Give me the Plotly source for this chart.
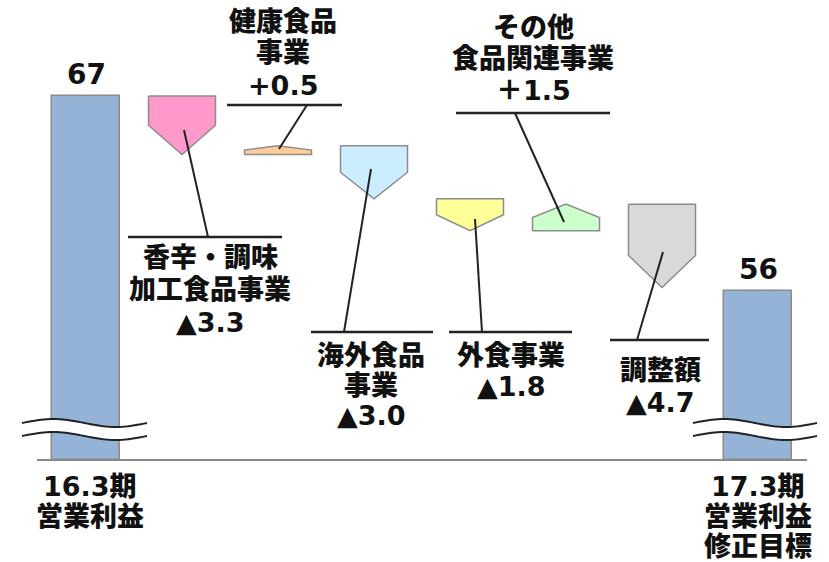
import math
import plotly.graph_objects as go

# ---------------- data ----------------
start_label = ["16.3期", "営業利益"]
end_label = ["17.3期", "営業利益", "修正目標"]
start_total = 67
end_total = 56
step_names = [
    ["香辛・調味", "加工食品事業"],
    ["健康食品", "事業"],
    ["海外食品", "事業"],
    ["外食事業"],
    ["その他", "食品関連事業"],
    ["調整額"],
]
step_deltas = [-3.3, 0.5, -3.0, -1.8, 1.5, -4.7]
step_colors = ["#FF99CC", "#FFCC99", "#CCECFF", "#FFFF99", "#CCFFCC", "#D9D9D9"]

# ---------------- layout helpers ----------------
W, H = 829, 562
PX_PER_UNIT = 195 / 11.0
X0, DX = 86.0, 96.0
XMIN = -X0 / DX
XMAX = (W - X0) / DX
YMAX = 67 + 96 / PX_PER_UNIT
YMIN = YMAX - H / PX_PER_UNIT


def to_x(px):
    return (px - X0) / DX


def to_y(py):
    return YMAX - py / PX_PER_UNIT


def paper(px, py):
    return px / W, 1 - py / H


FONT = "DejaVu Sans, Noto Sans CJK JP, sans-serif"
TXT = "#111111"
EDGE = "#8C8C8C"
LINE = "#222222"

base_value = to_y(460)

fig = go.Figure()

# totals bars
fig.add_trace(go.Bar(
    x=[0, 7], y=[start_total - base_value, end_total - base_value],
    base=[base_value, base_value], width=68 / DX,
    marker=dict(color="#95B3D7", line=dict(color=EDGE, width=1.5)),
    hoverinfo="skip", showlegend=False,
))

# pentagon steps
cum = start_total
half = 0.349
for i, (d, col) in enumerate(zip(step_deltas, step_colors), start=1):
    s, e = cum, cum + d
    tip = min(abs(d) / 2, 1.8)
    if d < 0:
        side = e + tip
    else:
        side = e - tip
    xs = [i - half, i + half, i + half, i, i - half, i - half]
    ys = [s, s, side, e, side, s]
    fig.add_trace(go.Scatter(
        x=xs, y=ys, mode="lines", fill="toself", fillcolor=col,
        line=dict(color=EDGE, width=1.5), hoverinfo="skip", showlegend=False,
    ))
    cum = e

shapes = []
# baseline
shapes.append(dict(type="line", xref="x", yref="y", x0=to_x(37), x1=to_x(807),
                   y0=base_value, y1=base_value, line=dict(color="#888888", width=2)))

# broken-axis waves
def wave(xa, xb, yc, amp=4, n=40):
    pts = []
    for k in range(n + 1):
        t = k / n
        pts.append((to_x(xa + t * (xb - xa)), to_y(yc - amp * math.sin(2 * math.pi * t))))
    return pts

for xa, xb in [(22, 147), (693, 817)]:
    top = wave(xa, xb, 423)
    bot = wave(xa, xb, 436)
    poly = top + bot[::-1]
    path = "M " + " L ".join(f"{x:.4f},{y:.4f}" for x, y in poly) + " Z"
    shapes.append(dict(type="path", xref="x", yref="y", path=path,
                       fillcolor="white", line=dict(width=0)))
    for ln in (top, bot):
        p = "M " + " L ".join(f"{x:.4f},{y:.4f}" for x, y in ln)
        shapes.append(dict(type="path", xref="x", yref="y", path=p,
                           line=dict(color=LINE, width=2)))

# label underlines and leaders (pixel layout)
underlines = [(128, 282, 237), (227, 342, 105), (311, 433, 332),
              (449, 572, 332), (456, 610, 113), (610, 709, 340)]
leaders = [((184, 130), (208, 237)), ((279, 149), (307, 105)), ((371, 169), (344, 332)),
           ((475, 219), (482, 332)), ((564, 222), (515, 113)), ((663, 252), (637, 340))]
for xa, xb, yy in underlines:
    shapes.append(dict(type="line", xref="x", yref="y", x0=to_x(xa), x1=to_x(xb),
                       y0=to_y(yy), y1=to_y(yy), line=dict(color=LINE, width=2.5)))
for (ax, ay), (bx, by) in leaders:
    shapes.append(dict(type="line", xref="x", yref="y", x0=to_x(ax), y0=to_y(ay),
                       x1=to_x(bx), y1=to_y(by), line=dict(color=LINE, width=2)))

annotations = []


def add_lines(lines, cx, cy0, dy, size=27):
    for k, t in enumerate(lines):
        x, y = paper(cx, cy0 + k * dy)
        annotations.append(dict(text=t, x=x, y=y, xref="paper", yref="paper",
                                xanchor="center", yanchor="middle", showarrow=False,
                                font=dict(family=FONT, size=size, color=TXT, weight=900)))


def fmt(d):
    return ("▲" + f"{abs(d):.1f}") if d < 0 else ("＋" + f"{d:.1f}" if abs(d) >= 1 else "+" + f"{d:.1f}")

# totals value labels
for xi, v in [(0, start_total), (7, end_total)]:
    annotations.append(dict(text=f"{v:.0f}", x=xi, y=v, xref="x", yref="y",
                            xanchor="center", yanchor="bottom", yshift=3, showarrow=False,
                            font=dict(family=FONT, size=28, color=TXT, weight=900)))

add_lines(start_label, 90, 486, 30)
add_lines(end_label, 758, 486, 30)

label_pos = [(210, 257, 32.5), (283, 21, 32), (371, 355, 30.5),
             (511, 355, 32), (533, 27, 31.5), (660, 370, 32)]
for names, d, (cx, cy, dy) in zip(step_names, step_deltas, label_pos):
    add_lines(names + [fmt(d)], cx, cy, dy)

fig.update_layout(
    width=W, height=H, margin=dict(l=0, r=0, t=0, b=0),
    paper_bgcolor="white", plot_bgcolor="white",
    xaxis=dict(range=[XMIN, XMAX], visible=False, fixedrange=True),
    yaxis=dict(range=[YMIN, YMAX], visible=False, fixedrange=True),
    shapes=shapes, annotations=annotations, showlegend=False,
    bargap=0,
)

fig.write_html("out.html")
